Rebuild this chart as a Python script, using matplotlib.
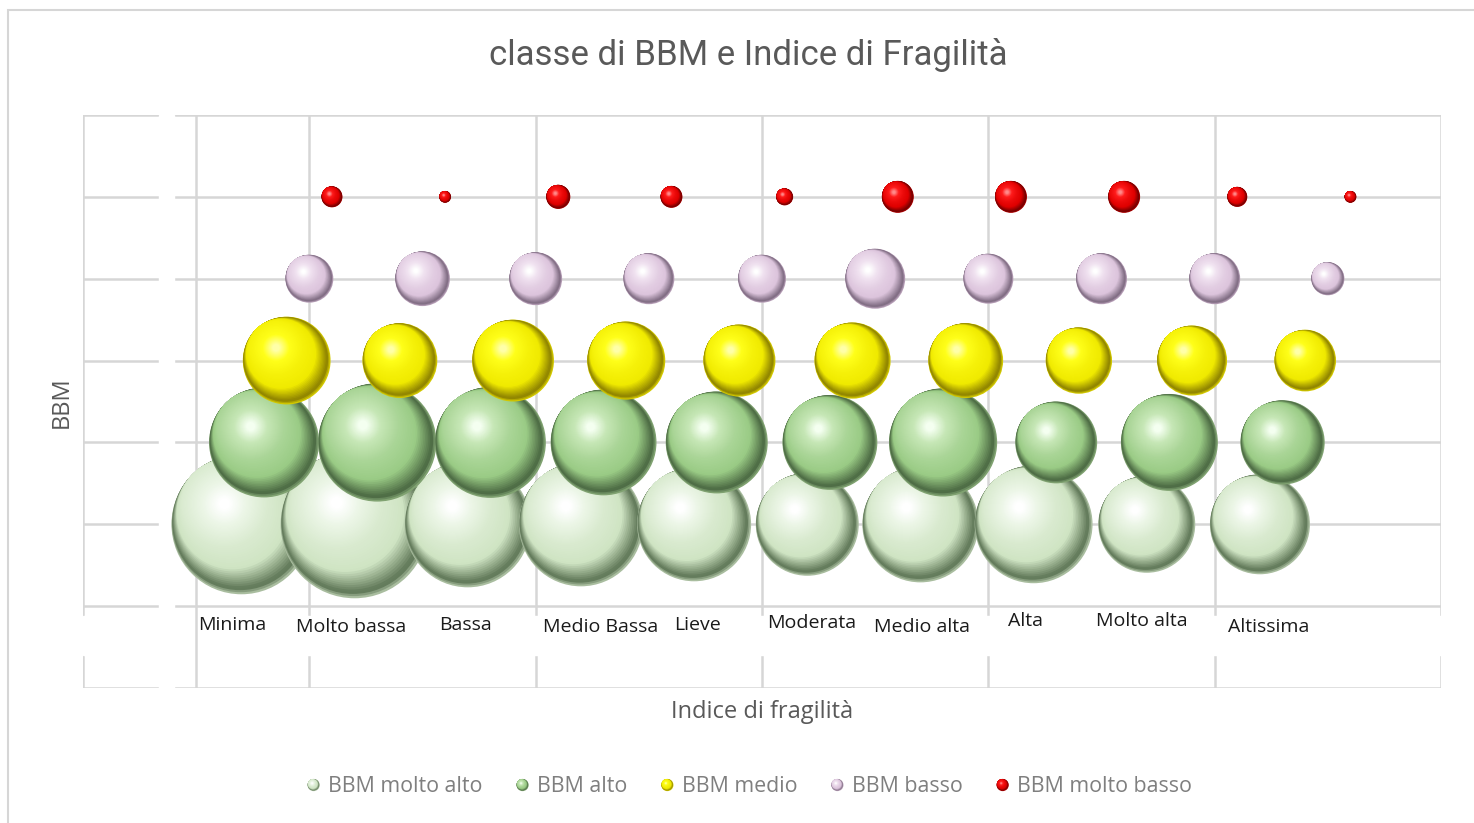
import numpy as np
import matplotlib
matplotlib.use("Agg")
import matplotlib.pyplot as plt
from matplotlib.patches import Circle, Rectangle
from matplotlib.legend_handler import HandlerBase
from matplotlib.lines import Line2D
import matplotlib.colors as mcolors

# dati (dimensione bolla ~ area)
categorie = ["Minima", "Molto bassa", "Bassa", "Medio Bassa", "Lieve",
             "Moderata", "Medio alta", "Alta", "Molto alta", "Altissima"]
cat_x = [1, 2, 3, 4, 5, 6, 7, 8, 9, 10]

serie = ["BBM molto alto", "BBM alto", "BBM medio", "BBM basso", "BBM molto basso"]
serie_y = [1, 2, 3, 4, 5]
serie_shift = [0.4, 0.6, 0.8, 1.0, 1.2]

molto_alto = [196, 219, 159, 154, 130, 106, 135, 139, 94, 100]
alto = [121, 140, 123, 112, 104, 90, 117, 67, 94, 71]
medio = [77, 56, 67, 61, 52, 58, 56, 44, 49, 38]
basso = [23, 30, 28, 26, 23, 36, 25, 26, 26, 11]
molto_basso = [4.4, 1.4, 5.8, 4.8, 2.9, 10.2, 10.2, 10.2, 4.0, 1.4]
valori = [molto_alto, alto, medio, basso, molto_basso]

# posizione etichette categorie (x centro, y)
lab_x = [1.32, 2.37, 3.38, 4.57, 5.43, 6.44, 7.41, 8.33, 9.36, 10.48]
lab_y = [-0.23, -0.26, -0.23, -0.26, -0.23, -0.21, -0.26, -0.18, -0.18, -0.26]

# colori: riflesso bordo, bordo scuro, base, chiaro, luce
colori = [
    ["#a9bd9f", "#5d7555", "#cfe4c3", "#ecf6e7", "#ffffff"],
    ["#80a271", "#4a6842", "#9acb85", "#c6e7b6", "#f4fff0"],
    ["#d2c800", "#8c8000", "#f0ea00", "#ffff1a", "#ffffa8"],
    ["#b8a0b8", "#7d6a80", "#dcc4dc", "#f1e3f1", "#ffffff"],
    ["#b00000", "#700000", "#e00000", "#ff1c1c", "#ff8a8a"],
]

DPI = 100
GRID = "#d6d6d6"
STOPS = [0.0, 0.04, 0.22, 0.75, 1.0]
LUCE = np.array([-0.64, 0.77])  # direzione della luce
H = 0.38


def shade(cols, t):
    rgb = np.array([mcolors.to_rgb(c) for c in cols])
    return tuple(np.interp(t, STOPS, rgb[:, i]) for i in range(3))


def layers(R, n):
    out = []
    for k in range(n):
        t = k / (n - 1)
        s = 0.92 * t
        c = min(s, H) * R * LUCE
        out.append((c[0], c[1], R * (1 - s), t))
    return out


def sphere(ax, x, y, d_px, cols, z, n=56):
    cx, cy = ax.transData.transform((x, y))
    inv = ax.transData.inverted()
    pts, sizes, cs = [], [], []
    for ox, oy, r, t in layers(d_px / 2, n):
        pts.append(inv.transform((cx + ox, cy + oy)))
        sizes.append((2 * r * 72 / DPI) ** 2)
        cs.append(shade(cols, t))
    pts = np.array(pts)
    ax.scatter(pts[:, 0], pts[:, 1], s=sizes, c=cs, edgecolors="none",
               zorder=z, clip_on=False)


class SphereHandler(HandlerBase):
    def __init__(self, cols):
        super().__init__()
        self.cols = cols

    def create_artists(self, legend, orig_handle, xdescent, ydescent,
                       width, height, fontsize, trans):
        cx = width / 2 - xdescent
        cy = height / 2 - ydescent
        arts = []
        for ox, oy, r, t in layers(4.4, 18):
            arts.append(Circle((cx + ox, cy + oy), r, fc=shade(self.cols, t),
                               ec="none", transform=trans))
        return arts


plt.rcParams["font.family"] = ["Open Sans", "DejaVu Sans"]

fig = plt.figure(figsize=(14.74, 8.23), dpi=DPI)
ax = fig.add_axes([83 / 1474, 1 - 688 / 823, (1441 - 83) / 1474, (688 - 115) / 823])
ax.set_xlim(0, 12)
ax.set_ylim(-1, 6)
ax.set_xticks(range(0, 13, 2))
ax.set_yticks(range(-1, 7))
ax.tick_params(length=0, labelbottom=False, labelleft=False)
for s in ax.spines.values():
    s.set_visible(False)
ax.grid(True, color=GRID, lw=1.8)
ax.set_axisbelow(True)

# bande bianche (etichette nascoste)
ax.axhspan(-0.6, -0.12, color="white", zorder=1)
ax.axvspan(0.67, 0.80, color="white", zorder=1)
ax.axvline(1, color=GRID, lw=1.8, zorder=1.2)

px_scale = 10.0
for j in range(len(serie)):
    for i in range(len(cat_x)):
        d = px_scale * np.sqrt(valori[j][i])
        sphere(ax, cat_x[i] + serie_shift[j], serie_y[j], d, colori[j], 2 + j)

for i, lab in enumerate(categorie):
    ax.text(lab_x[i], lab_y[i], lab, ha="center", va="center", fontsize=14,
            color="#1a1a1a", zorder=10)

fig.text(0.5075, 0.933, "classe di BBM e Indice di Fragilità", ha="center",
         va="center", fontsize=25, color="#595959",
         family=["Roboto", "DejaVu Sans"])
fig.text(762 / 1474, 1 - 712 / 823, "Indice di fragilità", ha="center",
         va="center", fontsize=17, color="#595959")
fig.text(62 / 1474, 1 - 402 / 823, "BBM", ha="center", va="center",
         rotation=90, fontsize=17, color="#595959")

handles = [Line2D([], [], label=s) for s in serie]
hmap = {h: SphereHandler(colori[j]) for j, h in enumerate(handles)}
leg = fig.legend(handles=handles, handler_map=hmap, loc="center",
                 bbox_to_anchor=(0.508, 1 - 787 / 823), ncol=5, frameon=False,
                 fontsize=15.4, handlelength=0.75, handletextpad=0.3,
                 columnspacing=1.5)
for t in leg.get_texts():
    t.set_color("#7f7f7f")

fig.patches.append(Rectangle((8 / 1474, -0.05), 1.0, 1 - 10 / 823 + 0.05,
                             fill=False, ec=GRID, lw=1.5,
                             transform=fig.transFigure))

fig.savefig("out.png", dpi=DPI)
